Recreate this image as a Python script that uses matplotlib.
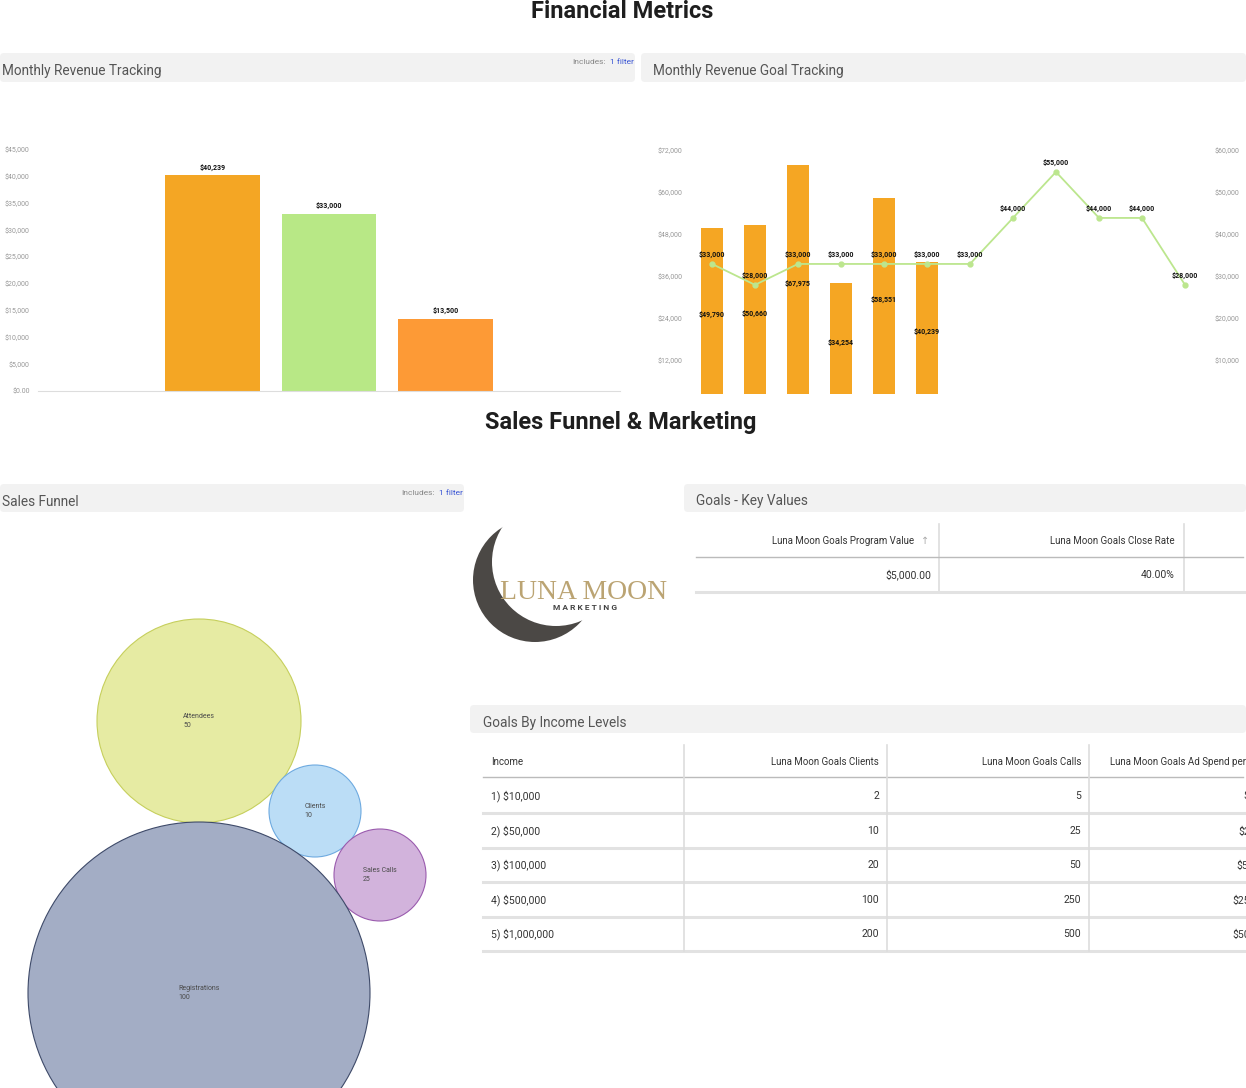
import matplotlib.pyplot as plt
from matplotlib.patches import Circle, FancyBboxPatch

plt.rcParams['font.family'] = ['Roboto', 'DejaVu Sans']

W, H = 1246, 1088

# Monthly Revenue Tracking
rev_values = [40239, 33000, 13500]
rev_colors = ['#F4A624', '#B8E886', '#FD9A36']
rev_ticks = [0, 5000, 10000, 15000, 20000, 25000, 30000, 35000, 40000, 45000]
rev_ticklabels = ['$0.00', '$5,000', '$10,000', '$15,000', '$20,000', '$25,000',
                  '$30,000', '$35,000', '$40,000', '$45,000']

# Monthly Revenue Goal Tracking
months = ['Jan', 'Feb', 'Mar', 'Apr', 'May', 'Jun', 'Jul', 'Aug', 'Sep', 'Oct', 'Nov', 'Dec']
actual_rev = [49790, 50660, 67975, 34254, 58551, 40239]
goal_rev = [33000, 28000, 33000, 33000, 33000, 33000, 33000, 44000, 55000, 44000, 44000, 28000]
left_ticks = [12000, 24000, 36000, 48000, 60000, 72000]
right_ticks = [10000, 20000, 30000, 40000, 50000, 60000]

# Sales Funnel
funnel_stages = ['Attendees', 'Clients', 'Sales Calls', 'Registrations']
funnel_counts = [50, 10, 25, 100]

# Goals - Key Values
kv_columns = ['Luna Moon Goals Program Value', 'Luna Moon Goals Close Rate']
kv_values = ['$5,000.00', '40.00%']

# Goals By Income Levels
income_levels = ['1) $10,000', '2) $50,000', '3) $100,000', '4) $500,000', '5) $1,000,000']
goal_clients = [2, 10, 20, 100, 200]
goal_calls = [5, 25, 50, 250, 500]
goal_ad_spend = ['$500', '$2,500', '$5,000', '$25,000', '$50,000']


def rect(x0, y0, x1, y1):
    return [x0 / W, 1 - y1 / H, (x1 - x0) / W, (y1 - y0) / H]


fig = plt.figure(figsize=(W / 100, H / 100), dpi=100)

# background canvas in pixel units
cv = fig.add_axes([0, 0, 1, 1])
cv.set_xlim(0, W)
cv.set_ylim(H, 0)
cv.axis('off')


def header(x0, y0, x1, y1, title, tx, filt=False):
    cv.add_patch(FancyBboxPatch((x0, y0), x1 - x0, y1 - y0,
                                boxstyle='round,pad=0,rounding_size=4',
                                fc='#F2F2F2', ec='none'))
    cv.text(tx, y0 + 17.5, title, fontsize=9.8, color='#555555', va='center')
    if filt:
        cv.text(x1 - 1, y0 + 9, '1 filter', fontsize=6, color='#3A55D4',
                ha='right', va='center')
        cv.text(x1 - 29, y0 + 9, 'Includes:', fontsize=6, color='#888888',
                ha='right', va='center')


cv.text(622, 18, 'Financial Metrics', fontsize=17, fontweight='bold',
        color='#1E1E1E', ha='center', va='baseline')
cv.text(621, 429, 'Sales Funnel & Marketing', fontsize=17, fontweight='bold',
        color='#1E1E1E', ha='center', va='baseline')

header(0, 53, 635, 82, 'Monthly Revenue Tracking', 2, True)
header(641, 53, 1246, 82, 'Monthly Revenue Goal Tracking', 653)
header(0, 484, 464, 512, 'Sales Funnel', 2, True)
header(684, 484, 1246, 512, 'Goals - Key Values', 696)
header(470, 705, 1246, 733, 'Goals By Income Levels', 483)

# ---- chart 1: monthly revenue tracking
ax1 = fig.add_axes(rect(38, 150, 620, 391))
ax1.set_facecolor('none')
x1 = list(range(len(rev_values)))
ax1.bar(x1, rev_values, width=0.81, color=rev_colors)
for i, v in enumerate(rev_values):
    ax1.annotate(f'${v:,}', (i, v), xytext=(0, 3), textcoords='offset points',
                 ha='center', va='bottom', fontsize=5, fontweight='bold', color='#111111')
ax1.set_xlim(-1.5, 3.5)
ax1.set_ylim(0, 45000)
ax1.set_yticks(rev_ticks)
ax1.set_yticklabels(rev_ticklabels)
ax1.set_xticks([])
ax1.tick_params(axis='y', length=0, pad=6, labelsize=5, labelcolor='#999999')
for s in ['top', 'right', 'left']:
    ax1.spines[s].set_visible(False)
ax1.spines['bottom'].set_color('#DDDDDD')

# ---- chart 2: monthly revenue goal tracking
ax2 = fig.add_axes(rect(690.5, 151, 1206.5, 394))
ax2.set_facecolor('none')
xm = list(range(len(months)))
ax2.bar(xm[:len(actual_rev)], actual_rev, width=0.51, color='#F5A623')
for i, v in enumerate(actual_rev):
    ax2.text(i, v / 2, f'${v:,}', ha='center', va='center', fontsize=5,
             fontweight='bold', color='#111111')
ax2.set_xlim(-0.5, 11.5)
ax2.set_ylim(2295, 72000)
ax2.set_yticks(left_ticks)
ax2.set_yticklabels([f'${t:,}' for t in left_ticks])
ax2.set_xticks([])
ax2.tick_params(axis='y', length=0, pad=6, labelsize=5, labelcolor='#999999')

ax2r = ax2.twinx()
ax2r.plot(xm, goal_rev, color='#BCE68E', lw=1.3, marker='o', ms=3.5)
for i, v in enumerate(goal_rev):
    ax2r.annotate(f'${v:,}', (i, v), xytext=(0, 3.5), textcoords='offset points',
                  ha='center', va='bottom', fontsize=5, fontweight='bold', color='#111111')
ax2r.set_ylim(2295 * 60 / 72, 60000)
ax2r.set_yticks(right_ticks)
ax2r.set_yticklabels([f'${t:,}' for t in right_ticks])
ax2r.tick_params(axis='y', length=0, pad=6, labelsize=5, labelcolor='#999999')
for a in (ax2, ax2r):
    for s in a.spines.values():
        s.set_visible(False)

# ---- sales funnel bubbles (layout in canvas pixels)
bubble_xy = [(199, 721), (315, 811), (380, 875), (199, 993)]
bubble_r = [102, 46, 46, 171]
bubble_fc = ['#E6EBA3', '#BBDDF6', '#D2B3DC', '#A3ADC5']
bubble_ec = ['#C6CF5C', '#6EAAE0', '#9A5BAE', '#3E4A69']
for (cx, cy), r, fc, ec, name, n in zip(bubble_xy, bubble_r, bubble_fc, bubble_ec,
                                        funnel_stages, funnel_counts):
    cv.add_patch(Circle((cx, cy), r, fc=fc, ec=ec, lw=0.8))
    cv.text(cx, cy, f'{name}\n{n}', fontsize=5, color='#4A4A4A', ha='center',
            va='center', multialignment='left', linespacing=1.5)

# ---- logo
cv.add_patch(Circle((535, 580), 62, fc='#4B4845', ec='none'))
cv.add_patch(Circle((556, 562), 64, fc='white', ec='none'))
cv.text(584, 599, 'LUNA MOON', fontsize=20, family='Liberation Serif',
        color='#BBA473', ha='center', va='baseline')
cv.text(585, 607, 'M A R K E T I N G', fontsize=6, fontweight='bold',
        color='#444444', ha='center', va='center')

# ---- key values table
kv_right = [914, 1175]
for xr, col, val in zip(kv_right, kv_columns, kv_values):
    cv.text(xr, 541, col, fontsize=7, color='#333333', ha='right', va='center')
cv.text(925, 541, '\u2191', fontsize=7, color='#AAAAAA', ha='center', va='center',
        family=['DejaVu Sans'])
for xr, val in zip([931, 1175], kv_values):
    cv.text(xr, 575, val, fontsize=7.5, color='#333333', ha='right', va='center')
for xv in (939, 1184):
    cv.plot([xv, xv], [524, 592], color='#DDDDDD', lw=1.2)
cv.plot([696, 1243], [557, 557], color='#BBBBBB', lw=1)
cv.plot([696, 1246], [592, 592], color='#E2E2E2', lw=2.2)

# ---- income levels table
cv.text(491, 762, 'Income', fontsize=7, color='#333333', va='center')
cv.text(879, 762, 'Luna Moon Goals Clients', fontsize=7, color='#333333',
        ha='right', va='center')
cv.text(1081, 762, 'Luna Moon Goals Calls', fontsize=7, color='#333333',
        ha='right', va='center')
cv.text(1110, 762, 'Luna Moon Goals Ad Spend per Month', fontsize=7, color='#333333',
        va='center')
row_y = [796, 831, 865, 900, 934]
ad_x = [1243, 1238, 1236, 1232, 1232]
for y, inc, c, k, ad, ax_ in zip(row_y, income_levels, goal_clients, goal_calls,
                                  goal_ad_spend, ad_x):
    cv.text(491, y, inc, fontsize=7.5, color='#333333', va='center')
    cv.text(879, y, str(c), fontsize=7.5, color='#333333', ha='right', va='center')
    cv.text(1081, y, str(k), fontsize=7.5, color='#333333', ha='right', va='center')
    cv.text(ax_, y, ad, fontsize=7.5, color='#333333', va='center')
    cv.plot([483, 1246], [y + 17, y + 17], color='#E2E2E2', lw=2.2)
cv.plot([483, 1243], [777, 777], color='#BBBBBB', lw=1)
for xv in (684, 887, 1089):
    cv.plot([xv, xv], [745, 951], color='#DDDDDD', lw=1.2)

fig.savefig('out.png', dpi=100)
